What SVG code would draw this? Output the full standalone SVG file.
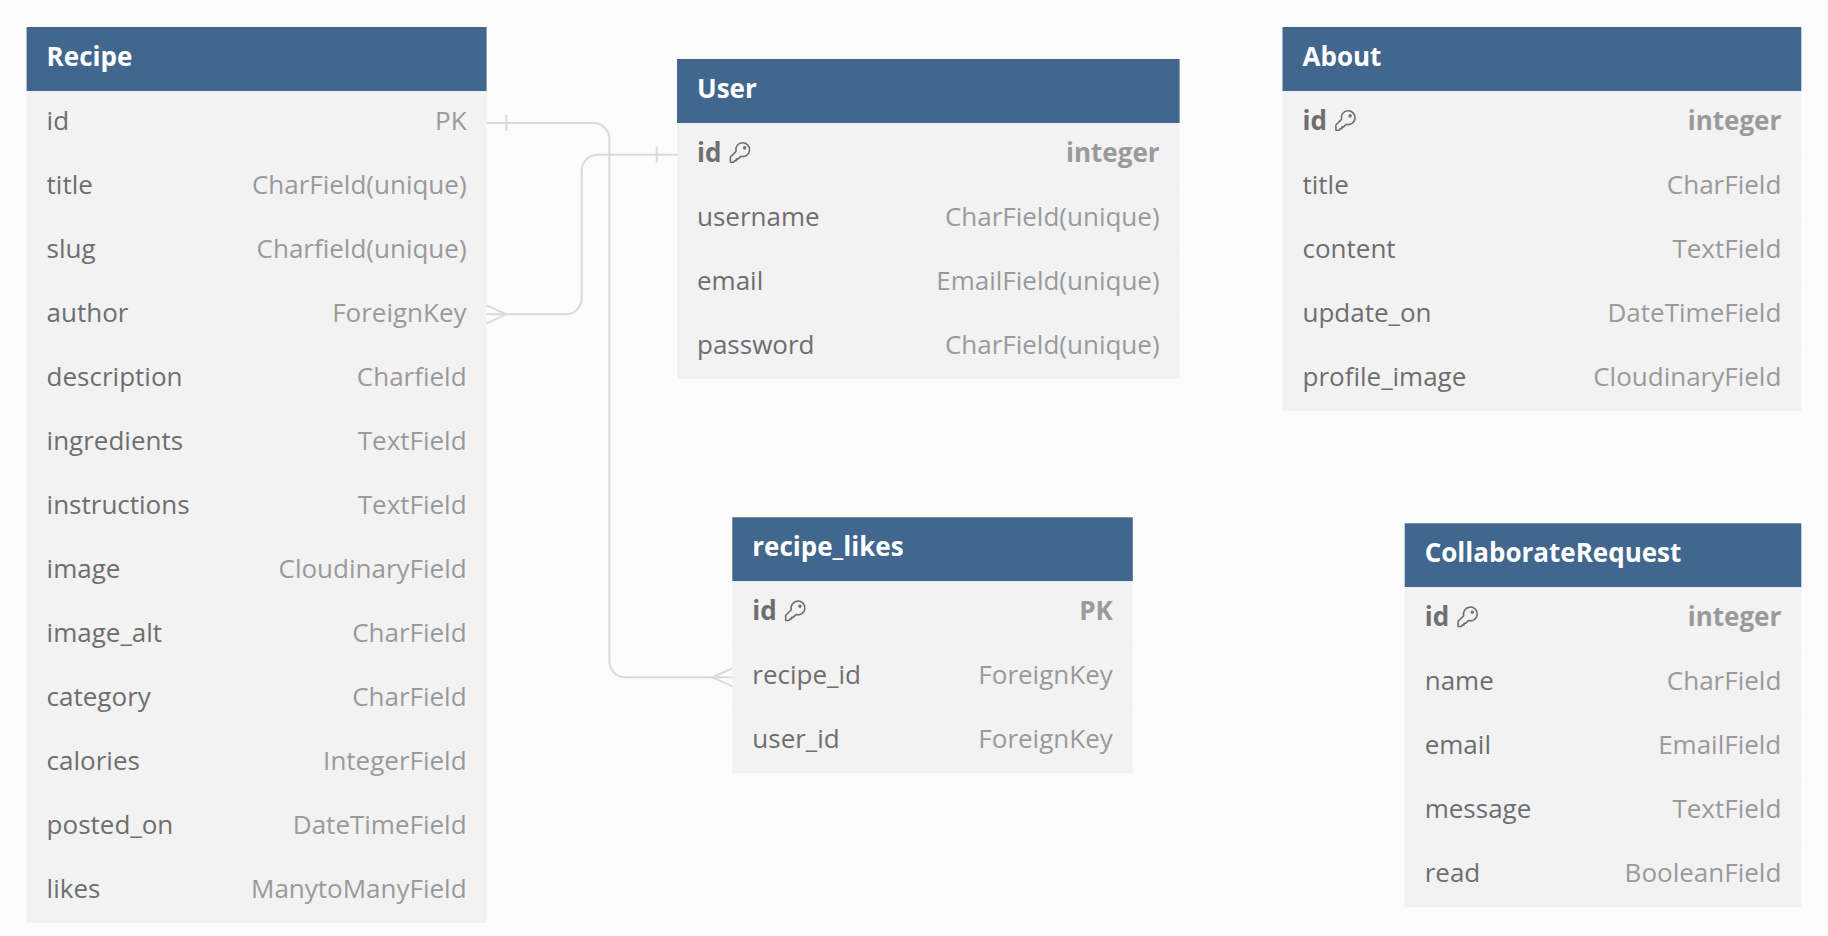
<svg xmlns="http://www.w3.org/2000/svg" width="1828" height="936" viewBox="0 0 1828 936">
<style>
text{font-family:"Open Sans","Noto Sans","Liberation Sans",sans-serif;font-size:26px}
.h{fill:#41678f}
.b{fill:#f2f2f2}
.s{stroke:#f0f0f0;stroke-width:1;fill:none}
.t{fill:#fff;font-weight:700}
.n{fill:#6e6e6e}
.y{fill:#9a9a9a;text-anchor:end}
.pk{font-weight:700}
.c{stroke:#d9d9d9;stroke-width:2;fill:none}
.k{stroke:#6e6e6e;stroke-width:1.6;fill:none;stroke-linejoin:round}
</style>
<defs>
<path id="key" class="k" d="M0.800 19.800V14.600L6.400 9A6.900 6.900 0 1 1 11.200 13.900L8.500 16.500H6.800V18.200H5.400L3.800 19.800ZM15 4.500A0.900 0.900 0 1 0 15.010 4.500Z"/>
</defs>
<rect width="1828" height="936" fill="#fcfcfc"/>
<g id="connectors">
<path class="c" d="M486.6 123H593.4A16 16 0 0 1 609.4 139V661.3A16 16 0 0 0 625.4 677.3H732.3"/>
<path class="c" d="M506.3 115V131"/>
<path class="c" d="M732.3 668.3L712.6 677.3L732.3 686.3"/>
<path class="c" d="M677 154.7H597.7A16 16 0 0 0 581.7 170.7V298.3A16 16 0 0 1 565.7 314.3H486.6"/>
<path class="c" d="M656.7 146.7V162.7"/>
<path class="c" d="M486.6 305.3L506.3 314.3L486.6 323.3"/>
</g>
<g id="node-recipe" transform="translate(26.6 27)">
<rect class="h" width="460" height="64"/>
<rect class="b" y="64" width="460" height="832"/>
<path class="s" d="M0 128H460M0 192H460M0 256H460M0 320H460M0 384H460M0 448H460M0 512H460M0 576H460M0 640H460M0 704H460M0 768H460M0 832H460"/>
<text class="t" x="20" y="38.500">Recipe</text>
<text class="n" x="20" y="102.500">id</text><text class="y" x="440" y="102.500">PK</text>
<text class="n" x="20" y="166.500">title</text><text class="y" x="440" y="166.500">CharField(unique)</text>
<text class="n" x="20" y="230.500">slug</text><text class="y" x="440" y="230.500">Charfield(unique)</text>
<text class="n" x="20" y="294.500">author</text><text class="y" x="440" y="294.500">ForeignKey</text>
<text class="n" x="20" y="358.500">description</text><text class="y" x="440" y="358.500">Charfield</text>
<text class="n" x="20" y="422.500">ingredients</text><text class="y" x="440" y="422.500">TextField</text>
<text class="n" x="20" y="486.500">instructions</text><text class="y" x="440" y="486.500">TextField</text>
<text class="n" x="20" y="550.500">image</text><text class="y" x="440" y="550.500">CloudinaryField</text>
<text class="n" x="20" y="614.500">image_alt</text><text class="y" x="440" y="614.500">CharField</text>
<text class="n" x="20" y="678.500">category</text><text class="y" x="440" y="678.500">CharField</text>
<text class="n" x="20" y="742.500">calories</text><text class="y" x="440" y="742.500">IntegerField</text>
<text class="n" x="20" y="806.500">posted_on</text><text class="y" x="440" y="806.500">DateTimeField</text>
<text class="n" x="20" y="870.500">likes</text><text class="y" x="440" y="870.500">ManytoManyField</text>
</g>
<g id="node-user" transform="translate(677 59)">
<rect class="h" width="502.600" height="64"/>
<rect class="b" y="64" width="502.600" height="256"/>
<path class="s" d="M0 128H502.600M0 192H502.600M0 256H502.600"/>
<text class="t" x="20" y="38.500">User</text>
<text class="n pk" x="20" y="102.500">id</text><use href="#key" x="52.600" y="83.400"/><text class="y pk" x="482.600" y="102.500">integer</text>
<text class="n" x="20" y="166.500">username</text><text class="y" x="482.600" y="166.500">CharField(unique)</text>
<text class="n" x="20" y="230.500">email</text><text class="y" x="482.600" y="230.500">EmailField(unique)</text>
<text class="n" x="20" y="294.500">password</text><text class="y" x="482.600" y="294.500">CharField(unique)</text>
</g>
<g id="node-about" transform="translate(1282.500 27)">
<rect class="h" width="518.800" height="64"/>
<rect class="b" y="64" width="518.800" height="320"/>
<path class="s" d="M0 128H518.800M0 192H518.800M0 256H518.800M0 320H518.800"/>
<text class="t" x="20" y="38.500">About</text>
<text class="n pk" x="20" y="102.500">id</text><use href="#key" x="52.600" y="83.400"/><text class="y pk" x="498.800" y="102.500">integer</text>
<text class="n" x="20" y="166.500">title</text><text class="y" x="498.800" y="166.500">CharField</text>
<text class="n" x="20" y="230.500">content</text><text class="y" x="498.800" y="230.500">TextField</text>
<text class="n" x="20" y="294.500">update_on</text><text class="y" x="498.800" y="294.500">DateTimeField</text>
<text class="n" x="20" y="358.500">profile_image</text><text class="y" x="498.800" y="358.500">CloudinaryField</text>
</g>
<g id="node-recipe-likes" transform="translate(732.300 517.300)">
<rect class="h" width="400.500" height="64"/>
<rect class="b" y="64" width="400.500" height="192"/>
<path class="s" d="M0 128H400.500M0 192H400.500"/>
<text class="t" x="20" y="38.500">recipe_likes</text>
<text class="n pk" x="20" y="102.500">id</text><use href="#key" x="52.600" y="83.400"/><text class="y pk" x="380.500" y="102.500">PK</text>
<text class="n" x="20" y="166.500">recipe_id</text><text class="y" x="380.500" y="166.500">ForeignKey</text>
<text class="n" x="20" y="230.500">user_id</text><text class="y" x="380.500" y="230.500">ForeignKey</text>
</g>
<g id="node-collaboraterequest" transform="translate(1404.700 523.300)">
<rect class="h" width="396.600" height="64"/>
<rect class="b" y="64" width="396.600" height="320"/>
<path class="s" d="M0 128H396.600M0 192H396.600M0 256H396.600M0 320H396.600"/>
<text class="t" x="20" y="38.500">CollaborateRequest</text>
<text class="n pk" x="20" y="102.500">id</text><use href="#key" x="52.600" y="83.400"/><text class="y pk" x="376.600" y="102.500">integer</text>
<text class="n" x="20" y="166.500">name</text><text class="y" x="376.600" y="166.500">CharField</text>
<text class="n" x="20" y="230.500">email</text><text class="y" x="376.600" y="230.500">EmailField</text>
<text class="n" x="20" y="294.500">message</text><text class="y" x="376.600" y="294.500">TextField</text>
<text class="n" x="20" y="358.500">read</text><text class="y" x="376.600" y="358.500">BooleanField</text>
</g>
</svg>
